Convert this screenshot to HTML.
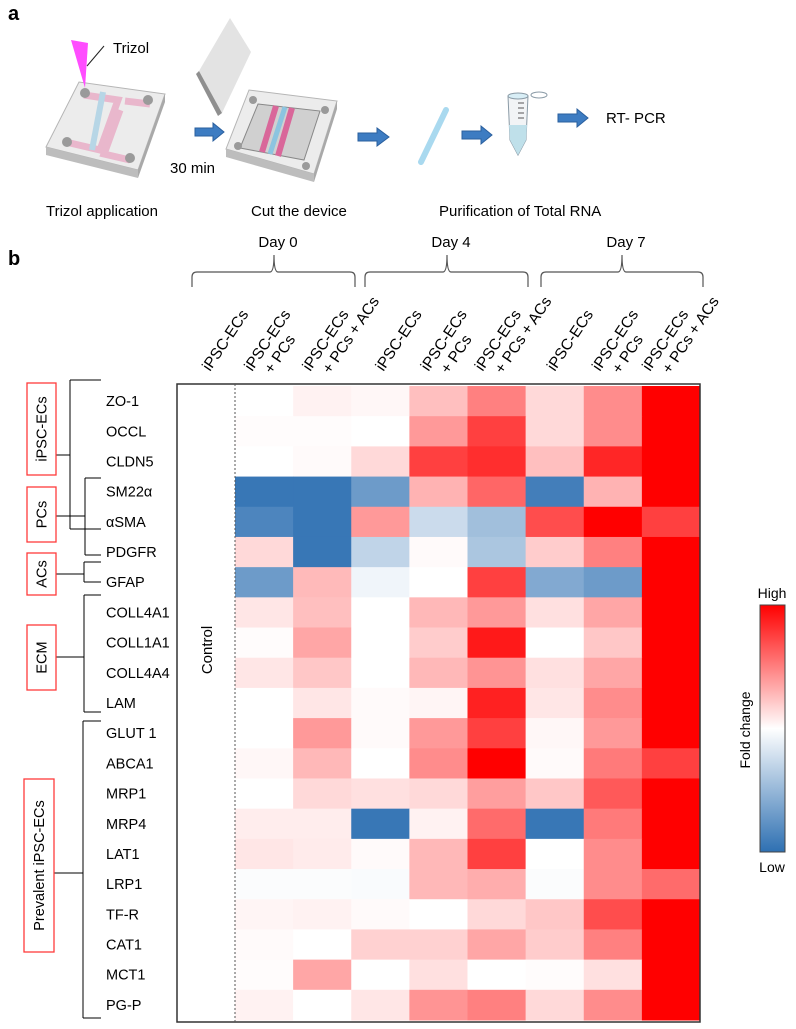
<!DOCTYPE html>
<html><head><meta charset="utf-8">
<style>
html,body{margin:0;padding:0;background:#fff;}
body{width:796px;height:1029px;position:relative;overflow:hidden;font-family:"Liberation Sans",Arial,sans-serif;}
svg{position:absolute;left:0;top:0;}
</style></head>
<body>
<svg id="fig" width="796" height="1029" viewBox="0 0 796 1029" xmlns="http://www.w3.org/2000/svg" font-family="Liberation Sans, Arial, sans-serif">
<defs>
<linearGradient id="cbar" x1="0" y1="0" x2="0" y2="1">
<stop offset="0" stop-color="#ff0000"/><stop offset="0.5" stop-color="#ffffff"/><stop offset="1" stop-color="#2e70b2"/>
</linearGradient>
</defs>
<g>
<text x="8" y="20" font-size="20" font-weight="bold">a</text>
<g>
<polygon points="46,147 79,82 165,94 138,170" fill="#ececec" stroke="#b5b5b5"/>
<polygon points="46,147 138,170 138,178 46,155" fill="#bdbdbd"/>
<polygon points="138,170 165,94 165,102 138,178" fill="#a9a9a9"/>
<path d="M84,95 L118,100 L100,150 L70,143" fill="none" stroke="#e9b7cc" stroke-width="7"/>
<path d="M103,92 L92,150" stroke="#b7d6e6" stroke-width="6"/>
<path d="M125,101 L150,104 M120,110 L104,154 L130,160" fill="none" stroke="#e9b7cc" stroke-width="7"/>
<circle cx="85" cy="93" r="5" fill="#9a9a9a"/><circle cx="148" cy="100" r="5" fill="#9a9a9a"/>
<circle cx="67" cy="142" r="5" fill="#9a9a9a"/><circle cx="130" cy="158" r="5" fill="#9a9a9a"/>
</g>
<polygon points="71,40 88,43 85,88" fill="#ff4dff"/>
<line x1="87" y1="66" x2="104" y2="46" stroke="#222" stroke-width="1"/>
<text x="113" y="53" font-size="15">Trizol</text>
<g>
<polygon points="230,18 251,52 222,113 199,71" fill="#e3e3e3"/>
<polygon points="199,71 222,113 218,116 196,74" fill="#8f8f8f"/>
</g>
<g>
<polygon points="226,149 249,90 337,101 314,174" fill="#ececec" stroke="#b5b5b5"/>
<polygon points="226,149 314,174 314,182 226,157" fill="#bdbdbd"/>
<polygon points="314,174 337,101 337,109 314,182" fill="#a9a9a9"/>
<polygon points="258,104 320,111 304,160 240,148" fill="#d0d0d0" stroke="#888"/>
<path d="M276,106 L262,152 M292,108 L278,156" stroke="#d9679a" stroke-width="6"/>
<path d="M285,107 L270,154" stroke="#8cc4e0" stroke-width="5"/>
<circle cx="253" cy="100" r="4" fill="#9a9a9a"/><circle cx="325" cy="110" r="4" fill="#9a9a9a"/>
<circle cx="238" cy="146" r="4" fill="#9a9a9a"/><circle cx="306" cy="166" r="4" fill="#9a9a9a"/>
</g>
<g fill="#3d7cc2" stroke="#2a5f9e" stroke-width="1">
<polygon points="195,128 213,128 213,123 224,132 213,141 213,136 195,136"/>
<polygon points="358,133 377,133 377,128 389,137 377,146 377,141 358,141"/>
<polygon points="462,131 481,131 481,126 492,135 481,144 481,139 462,139"/>
<polygon points="558,114 577,114 577,109 588,118 577,127 577,122 558,122"/>
</g>
<text x="170" y="173" font-size="15">30 min</text>
<line x1="446" y1="110" x2="421" y2="162" stroke="#a9d9ef" stroke-width="6" stroke-linecap="round"/>
<g>
<path d="M508,96 L528,96 L526,140 L518,155 L510,140 Z" fill="#f2f4f6" stroke="#8a9aa6"/>
<path d="M509,125 L527,125 L526,140 L518,155 L510,140 Z" fill="#bfe0ea"/>
<ellipse cx="518" cy="96" rx="10" ry="3" fill="#d8eef6" stroke="#8a9aa6"/>
<ellipse cx="539" cy="95" rx="8" ry="3" fill="#fff" stroke="#8a9aa6"/>
<path d="M518,103 L524,103 M518,108 L524,108 M518,113 L524,113 M518,118 L524,118" stroke="#555"/>
</g>
<text x="606" y="123" font-size="15">RT- PCR</text>
<text x="46" y="216" font-size="15">Trizol application</text>
<text x="251" y="216" font-size="15">Cut the device</text>
<text x="439" y="216" font-size="15">Purification of Total RNA</text>
</g>
<text x="8" y="265" font-size="20" font-weight="bold">b</text>
<g id="heat"></g>
<g id="headers"></g>
<g id="rowlabels"></g>
<g id="groups" stroke="#000" stroke-width="1" fill="none"></g>
<g>
<rect x="760" y="605" width="25" height="247" fill="url(#cbar)" stroke="#444" stroke-width="1"/>
<text x="772" y="598" font-size="14" text-anchor="middle">High</text>
<text x="772" y="872" font-size="14" text-anchor="middle">Low</text>
<text transform="translate(750,730) rotate(-90)" font-size="14" text-anchor="middle">Fold change</text>
</g>
</svg>
<script>
const genes = ["ZO-1","OCCL","CLDN5","SM22\u03B1","\u03B1SMA","PDGFR","GFAP","COLL4A1","COLL1A1","COLL4A4","LAM","GLUT 1","ABCA1","MRP1","MRP4","LAT1","LRP1","TF-R","CAT1","MCT1","PG-P"];
const conditions = ["D0 +PCs","D0 +PCs+ACs","D4 iPSC-ECs","D4 +PCs","D4 +PCs+ACs","D7 iPSC-ECs","D7 +PCs","D7 +PCs+ACs"];
const rowZO1    = [0, 0.05, 0.03, 0.25, 0.5, 0.15, 0.45, 1];
const rowOCCL   = [0.01, 0.01, 0, 0.4, 0.75, 0.15, 0.45, 1];
const rowCLDN5  = [0, 0.02, 0.15, 0.75, 0.82, 0.25, 0.85, 1];
const rowSM22   = [-0.95, -0.95, -0.7, 0.3, 0.6, -0.9, 0.3, 1];
const rowASMA   = [-0.85, -0.95, 0.4, -0.25, -0.45, 0.7, 1, 0.75];
const rowPDGFR  = [0.15, -0.95, -0.3, 0.02, -0.4, 0.2, 0.5, 1];
const rowGFAP   = [-0.7, 0.27, -0.07, 0, 0.75, -0.6, -0.7, 1];
const rowCOLL4A1= [0.1, 0.25, 0, 0.28, 0.4, 0.12, 0.35, 1];
const rowCOLL1A1= [0.01, 0.35, 0, 0.2, 0.9, 0, 0.22, 1];
const rowCOLL4A4= [0.1, 0.22, 0, 0.28, 0.42, 0.12, 0.35, 1];
const rowLAM    = [0, 0.1, 0.02, 0.04, 0.87, 0.1, 0.45, 1];
const rowGLUT1  = [0, 0.4, 0.02, 0.4, 0.75, 0.03, 0.4, 1];
const rowABCA1  = [0.03, 0.28, 0, 0.45, 1, 0.02, 0.52, 0.75];
const rowMRP1   = [0, 0.15, 0.12, 0.15, 0.38, 0.22, 0.65, 1];
const rowMRP4   = [0.07, 0.07, -0.95, 0.05, 0.58, -0.95, 0.52, 1];
const rowLAT1   = [0.1, 0.08, 0.02, 0.28, 0.75, 0, 0.45, 1];
const rowLRP1   = [-0.02, -0.02, -0.03, 0.28, 0.32, -0.02, 0.45, 0.58];
const rowTFR    = [0.04, 0.05, 0.02, 0, 0.15, 0.22, 0.7, 1];
const rowCAT1   = [0.02, 0, 0.18, 0.18, 0.35, 0.2, 0.5, 1];
const rowMCT1   = [0.01, 0.35, 0, 0.12, 0, 0.01, 0.12, 1];
const rowPGP    = [0.05, 0, 0.1, 0.42, 0.5, 0.15, 0.45, 1];
const values = [rowZO1,rowOCCL,rowCLDN5,rowSM22,rowASMA,rowPDGFR,rowGFAP,rowCOLL4A1,rowCOLL1A1,rowCOLL4A4,rowLAM,rowGLUT1,rowABCA1,rowMRP1,rowMRP4,rowLAT1,rowLRP1,rowTFR,rowCAT1,rowMCT1,rowPGP];
const headerLine1 = ["iPSC-ECs","iPSC-ECs","iPSC-ECs","iPSC-ECs","iPSC-ECs","iPSC-ECs","iPSC-ECs","iPSC-ECs","iPSC-ECs"];
const headerLine2 = ["","+ PCs","+ PCs + ACs","","+ PCs","+ PCs + ACs","","+ PCs","+ PCs + ACs"];
const dayLabels = ["Day 0","Day 4","Day 7"];

const NS = "http://www.w3.org/2000/svg";
function mk(tag, attrs, parent){const e=document.createElementNS(NS,tag);for(const k in attrs)e.setAttribute(k,attrs[k]);parent.appendChild(e);return e;}
const boxL=177, boxT=384, boxR=700, boxB=1022, dataL=235, rowT=386, rowB=1020;
const colW=(boxR-dataL)/conditions.length, rowH=(rowB-rowT)/genes.length;
const xScale=i=>dataL+i*colW, yScale=j=>rowT+j*rowH;
function color(v){
  v=Math.max(-1,Math.min(1,v));
  if(v>=0){const g=Math.round(255*(1-v));return `rgb(255,${g},${g})`;}
  const t=-v;return `rgb(${Math.round(255+(46-255)*t)},${Math.round(255+(112-255)*t)},${Math.round(255+(178-255)*t)})`;
}
const heat=document.getElementById('heat');
values.forEach((row,j)=>{row.forEach((v,i)=>{
  const r=mk('rect',{x:xScale(i),y:yScale(j),width:colW+0.5,height:rowH+0.5,fill:color(v)},heat);
  
  
});});
const frame=mk('rect',{x:boxL,y:boxT,width:boxR-boxL,height:boxB-boxT,fill:'none',stroke:'#333','stroke-width':1.5},heat);


const dl=mk('line',{x1:dataL,y1:boxT,x2:dataL,y2:boxB,stroke:'#555','stroke-width':1,'stroke-dasharray':'2,2'},heat);


const ct=mk('text',{transform:'translate(212,650) rotate(-90)','font-size':15,'text-anchor':'middle'},heat);
ct.textContent='Control';



const hdr=document.getElementById('headers');
const allCenters=[206].concat(conditions.map((c,i)=>xScale(i)+colW/2));
const startOff=[4,-12,-12,3,-10,-14,0,-13,-21];
headerLine1.forEach((t,i)=>{
  const x0=allCenters[i]+startOff[i], y0=372;
  const g=mk('g',{transform:`translate(${x0},${y0}) rotate(-56)`},hdr);
  
  
  const t1=mk('text',{x:0,y:0,'font-size':15.5},g);t1.textContent=t;
  if(headerLine2[i]){const t2=mk('text',{x:9,y:18,'font-size':15.5},g);t2.textContent=headerLine2[i];}
});
const brackets=[[192,355,274],[365,528,447],[541,703,622]];
brackets.forEach((b,k)=>{
  const [a,c,m]=b;
  const p=mk('path',{d:`M${a},287 L${a},277 Q${a},272 ${a+5},272 L${m-4},272 Q${m},272 ${m},255 Q${m},272 ${m+4},272 L${c-5},272 Q${c},272 ${c},277 L${c},287`,fill:'none',stroke:'#555','stroke-width':1.2},hdr);
  
  
  const t=mk('text',{x:m+4,y:247,'font-size':15,'text-anchor':'middle'},hdr);
  t.textContent=dayLabels[k];
  
  
});

const rl=document.getElementById('rowlabels');
genes.forEach((g,j)=>{
  const t=mk('text',{x:106,y:yScale(j)+rowH/2+5,'font-size':14.5},rl);
  t.textContent=g;
  
  
});

const gr=document.getElementById('groups');
const groupDefs=[
 {name:"iPSC-ECs",box:[27,383,29,92],vx:70,y1:380,y2:529,cy:455},
 {name:"PCs",box:[27,487,29,55],vx:85,y1:478,y2:555,cy:516},
 {name:"ACs",box:[27,553,29,42],vx:84,y1:562,y2:582,cy:574},
 {name:"ECM",box:[27,625,29,65],vx:84,y1:595,y2:712,cy:657},
 {name:"Prevalent iPSC-ECs",box:[24,779,30,173],vx:83,y1:721,y2:1018,cy:873}
];
groupDefs.forEach(d=>{
  const [bx,by,bw,bh]=d.box;
  const p=mk('path',{d:`M${d.vx},${d.y1} L${d.vx},${d.y2} M${d.vx},${d.y1} L101,${d.y1} M${d.vx},${d.y2} L101,${d.y2} M${bx+bw},${d.cy} L${d.vx},${d.cy}`},gr);
  
  
  const r=mk('rect',{x:bx,y:by,width:bw,height:bh,stroke:'#ff3b3b','stroke-width':1.3,fill:'#fff'},gr);
  
  
  const t=mk('text',{transform:`translate(${bx+bw/2+5},${by+bh/2}) rotate(-90)`,'font-size':14.5,'text-anchor':'middle',fill:'#000',stroke:'none'},gr);
  t.textContent=d.name;
  
  
});
</script>
</body></html>
